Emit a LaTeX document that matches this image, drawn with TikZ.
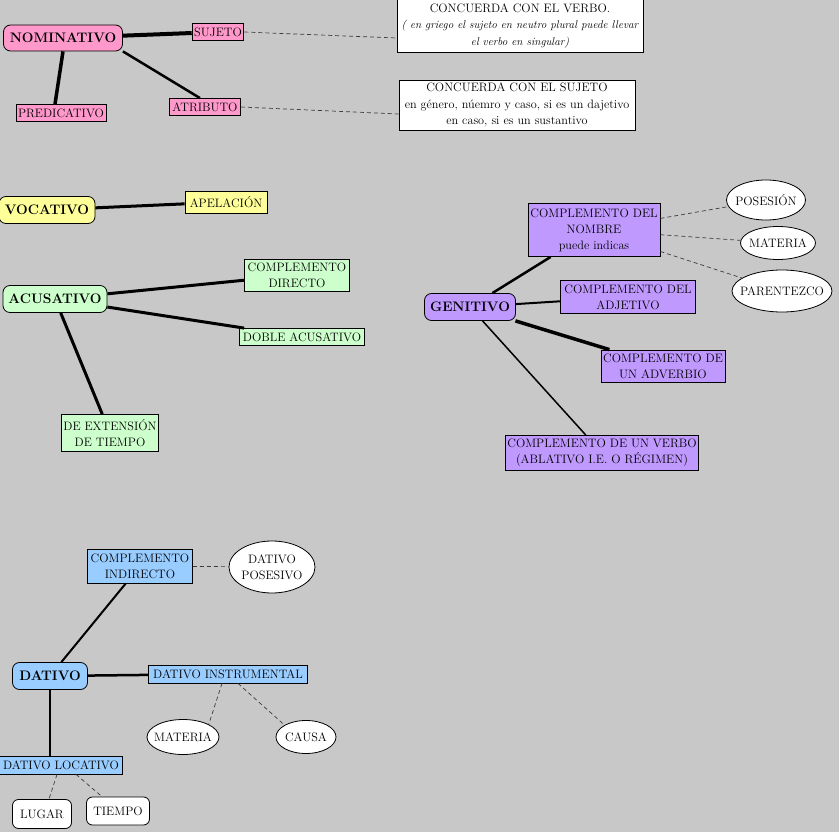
\documentclass[tikz,border=0pt]{standalone}
\usepackage{fontspec}
\usepackage{tikz}
\usetikzlibrary{shapes.geometric}

\definecolor{fondo}{RGB}{200,200,200}
\definecolor{rosa}{RGB}{255,153,204}
\definecolor{amarillo}{RGB}{255,255,153}
\definecolor{verde}{RGB}{204,255,204}
\definecolor{lila}{RGB}{192,153,255}
\definecolor{celeste}{RGB}{153,204,255}
\definecolor{guion}{RGB}{60,60,60}

\begin{document}
\begin{tikzpicture}[
  x=1pt, y=-1pt,
  caso/.style={draw, rectangle, rounded corners=7pt, line width=0.8pt,
               font=\fontsize{13.8}{15}\selectfont\bfseries, inner sep=2pt},
  func/.style={draw, rectangle, line width=0.8pt, align=center,
               font=\fontsize{12.2}{16}\selectfont, inner xsep=2pt, inner ysep=1pt},
  nota/.style={draw, rectangle, fill=white, line width=0.8pt, align=center,
               font=\fontsize{12.2}{16.5}\selectfont, inner sep=2pt},
  elip/.style={draw, ellipse, fill=white, line width=0.8pt, align=center,
               font=\fontsize{12.2}{16}\selectfont, inner xsep=-12pt, inner ysep=-2pt},
  caja/.style={draw, rectangle, rounded corners=6pt, fill=white, line width=0.8pt,
               font=\fontsize{12.2}{16}\selectfont, inner sep=1pt},
  guionada/.style={draw=guion, line width=0.7pt, dash pattern=on 4pt off 3pt}
]
\fill[fondo] (0,0) rectangle (839,832);
\useasboundingbox (0,0) rectangle (839,832);

% nominativo
\node[caso, fill=rosa, minimum width=119pt, minimum height=26pt] (nom) at (63,38) {NOMINATIVO};
\node[func, fill=rosa, minimum width=51pt, minimum height=17pt] (suj) at (218,32) {SUJETO};
\node[func, fill=rosa, minimum width=90pt, minimum height=17pt] (pred) at (61,113) {PREDICATIVO};
\node[func, fill=rosa, minimum width=71pt, minimum height=17pt] (atr) at (205,107) {ATRIBUTO};
\node[nota, minimum width=246pt, minimum height=53pt] (nota1) at (520,26)
  {CONCUERDA CON EL VERBO.\\{\itshape\fontsize{11.2}{16.5}\selectfont ( en griego el sujeto en neutro plural puede llevar}\\{\itshape\fontsize{11.2}{16.5}\selectfont el verbo en singular)}};
\node[nota, minimum width=236pt, minimum height=50pt] (nota2) at (517,105)
  {CONCUERDA CON EL SUJETO\\en género, núemro y caso, si es un dajetivo\\en caso, si es un sustantivo};

\draw[line width=4pt] (nom) -- (suj);
\draw[line width=3.5pt] (nom.south) -- ([xshift=-6pt]pred.north);
\draw[line width=2.5pt] (nom.south east) -- ([xshift=-5pt]atr.north);
\draw[guionada] (suj.east) -- ([yshift=-12pt]nota1.west);
\draw[guionada] (atr.east) -- ([yshift=-9pt]nota2.west);

% vocativo
\node[caso, fill=amarillo, minimum width=96pt, minimum height=27pt] (voc) at (47,210) {VOCATIVO};
\node[func, fill=amarillo, minimum width=82pt, minimum height=22pt] (apel) at (226,202) {APELACIÓN};
\draw[line width=3pt] (voc) -- (apel);

% acusativo
\node[caso, fill=verde, minimum width=104pt, minimum height=27pt] (acu) at (55,299) {ACUSATIVO};
\node[func, fill=verde, minimum width=105pt, minimum height=32pt] (cd) at (297,275) {COMPLEMENTO\\DIRECTO};
\node[func, fill=verde, minimum width=125pt, minimum height=17pt] (doble) at (302,337) {DOBLE ACUSATIVO};
\node[func, fill=verde, minimum width=96pt, minimum height=37pt] (ext) at (110,433) {DE EXTENSIÓN\\DE TIEMPO};
\draw[line width=3pt] (acu) -- (cd);
\draw[line width=3pt] (acu) -- (doble);
\draw[line width=3pt] (acu) -- (ext);

% genitivo
\node[caso, fill=lila, minimum width=91pt, minimum height=27pt] (gen) at (470,307) {GENITIVO};
\node[func, fill=lila, minimum width=132pt, minimum height=53pt] (cdn) at (594,230) {COMPLEMENTO DEL\\NOMBRE\\puede indicas};
\node[func, fill=lila, minimum width=135pt, minimum height=33pt] (cda) at (628,297) {COMPLEMENTO DEL\\ADJETIVO};
\node[func, fill=lila, minimum width=124pt, minimum height=32pt] (cadv) at (663,366) {COMPLEMENTO DE\\UN ADVERBIO};
\node[func, fill=lila, minimum width=191pt, minimum height=35pt] (cverb) at (602,453) {COMPLEMENTO DE UN VERBO\\(ABLATIVO I.E. O RÉGIMEN)};
\node[elip, minimum width=79pt, minimum height=40pt] (pos) at (766,200) {POSESIÓN};
\node[elip, minimum width=75pt, minimum height=33pt] (mat) at (778,243) {MATERIA};
\node[elip, minimum width=100pt, minimum height=42pt] (par) at (782,291) {PARENTEZCO};
\draw[line width=2.5pt] (gen) -- (cdn);
\draw[line width=2pt] (gen) -- (cda);
\draw[line width=3.5pt] (gen) -- (cadv);
\draw[line width=1.5pt] (gen) -- (cverb);
\draw[guionada] (cdn) -- (pos);
\draw[guionada] (cdn) -- (mat);
\draw[guionada] (cdn) -- (par);

% dativo
\node[caso, fill=celeste, minimum width=75pt, minimum height=27pt] (dat) at (50,676) {DATIVO};
\node[func, fill=celeste, minimum width=105pt, minimum height=34pt] (ci) at (140,566) {COMPLEMENTO\\INDIRECTO};
\node[elip, minimum width=86pt, minimum height=52pt] (dpos) at (272,567) {DATIVO\\POSESIVO};
\node[func, fill=celeste, minimum width=159pt, minimum height=18pt] (dins) at (228,674) {DATIVO INSTRUMENTAL};
\node[elip, minimum width=72pt, minimum height=35pt] (dmat) at (183,737) {MATERIA};
\node[elip, minimum width=60pt, minimum height=33pt] (causa) at (306,737) {CAUSA};
\node[func, fill=celeste, minimum width=123pt, minimum height=18pt] (dloc) at (61,765) {DATIVO LOCATIVO};
\node[caja, minimum width=59pt, minimum height=29pt] (lugar) at (42,814) {LUGAR};
\node[caja, minimum width=63pt, minimum height=28pt] (tiempo) at (118,811) {TIEMPO};
\draw[line width=2pt] (dat) -- (ci);
\draw[line width=2.5pt] (dat) -- (dins);
\draw[line width=2pt] (dat.south) -- ([xshift=-11pt]dloc.north);
\draw[guionada] (ci) -- (dpos);
\draw[guionada] ([xshift=-6pt]dins.south) -- (dmat.north east);
\draw[guionada] ([xshift=10pt]dins.south) -- (causa.north west);
\draw[guionada] ([xshift=-4pt]dloc.south) -- ([xshift=7pt]lugar.north);
\draw[guionada] ([xshift=15pt]dloc.south) -- ([xshift=-16pt]tiempo.north);
\end{tikzpicture}
\end{document}
